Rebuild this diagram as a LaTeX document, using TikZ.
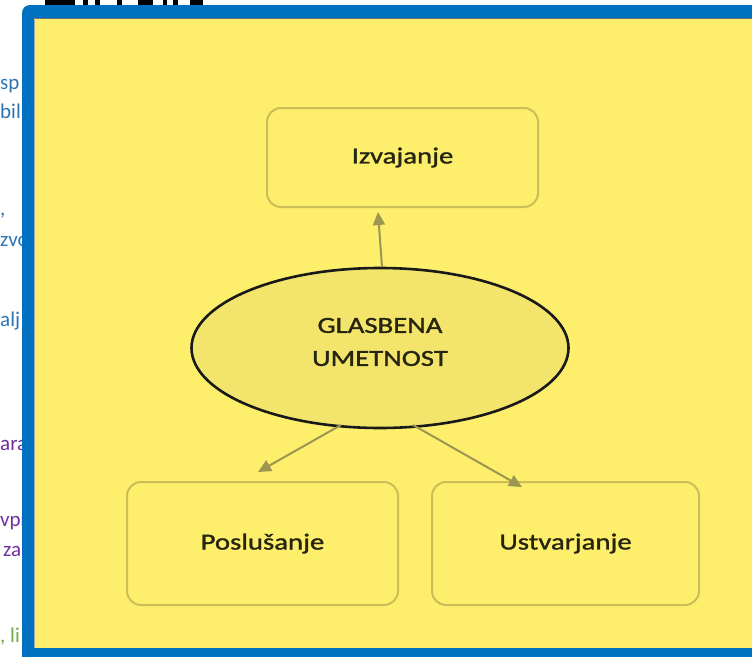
\documentclass[tikz,border=0pt]{standalone}
\usepackage{fontspec}
\setmainfont{Carlito}
\newfontfamily\diagfont[FakeStretch=1.25,FakeBold=1.3]{Carlito}
\usetikzlibrary{arrows.meta,shapes.geometric}
\definecolor{bgyellow}{HTML}{FDEE6C}
\definecolor{frameblue}{HTML}{0070C0}
\definecolor{boxline}{HTML}{CBBD57}
\definecolor{ellfill}{HTML}{F3E46C}
\definecolor{arrowcol}{HTML}{9C9652}
\definecolor{txtdark}{HTML}{26250F}
\definecolor{linkblue}{HTML}{2E74B5}
\definecolor{purp}{HTML}{7030A0}
\definecolor{grn}{HTML}{70AD47}
\tikzset{
  leafbox/.style={draw=boxline, line width=2pt, rounded corners=14pt, fill=bgyellow,
    font=\diagfont\fontsize{23}{33}\selectfont, text=txtdark, inner sep=0pt},
  hubell/.style={ellipse, draw=black!90, line width=2.6pt, fill=ellfill, inner sep=0pt},
  hubtext/.style={font=\diagfont\fontsize{23}{33}\selectfont, text=txtdark, align=center,
    inner sep=0pt, yshift=6pt},
  conn/.style={draw=arrowcol, line width=2pt, -{Triangle[length=13pt,width=12pt]}},
  frag/.style={anchor=base west, inner sep=0pt, font=\fontsize{21}{24}\selectfont}
}
\begin{document}
\begin{tikzpicture}[x=1pt,y=-1pt]
\useasboundingbox (0,0) rectangle (752,656);
\fill[white] (0,0) rectangle (752,656);
% cut-off text at the left
\node[frag, text=linkblue] (f1) at (0,89) {sp};
\node[frag, text=linkblue] (f2) at (0,118) {bili};
\node[frag, text=linkblue] (f3) at (0,215) {,};
\node[frag, text=linkblue] (f4) at (0,246) {zvo};
\node[frag, text=linkblue] (f5) at (0,326) {alj};
\node[frag, text=purp] (f6) at (0,450) {ara};
\node[frag, text=purp] (f7) at (0,526) {vpr};
\node[frag, text=purp] (f8) at (3,556) {za};
\node[frag, text=grn] (f9) at (0,642) {, li};
% black marks at the top
\foreach \a/\b in {45/75,83/88,95/100,117/122,138/153,163/167,173/178,190/203}
  \fill[black] (\a,0) rectangle (\b,5);
% frame
\fill[frameblue, rounded corners=8pt] (22,5) rectangle (780,690);
\fill[bgyellow] (34,18) rectangle (752,648);
\draw[black!55, line width=0.8pt] (34,18.5) -- (752,18.5);
\draw[black!35, line width=0.8pt] (34.4,18) -- (34.4,648);
% nodes
\node[leafbox, minimum width=271pt, minimum height=99pt] (izv) at (402.5,157.5) {Izvajanje};
\node[hubell, minimum width=377pt, minimum height=160pt,
  label={[hubtext, name=hubtxt]center:{GLASBENA\\UMETNOST}}] (hub) at (380,348) {};
\node[leafbox, minimum width=271pt, minimum height=123pt] (posl) at (262.5,543.5) {Poslušanje};
\node[leafbox, minimum width=267pt, minimum height=123pt] (ustv) at (565.5,543.5) {Ustvarjanje};
% connectors
\draw[conn] ([shift={(2,-81)}]hub.center) -- ([shift={(-24.5,4)}]izv.south);
\draw[conn] ([shift={(-39,77)}]hub.center) -- ([shift={(-4.5,-9)}]posl.north);
\draw[conn] ([shift={(33,77)}]hub.center) -- ([shift={(-43.5,6)}]ustv.north);
\end{tikzpicture}
\end{document}
